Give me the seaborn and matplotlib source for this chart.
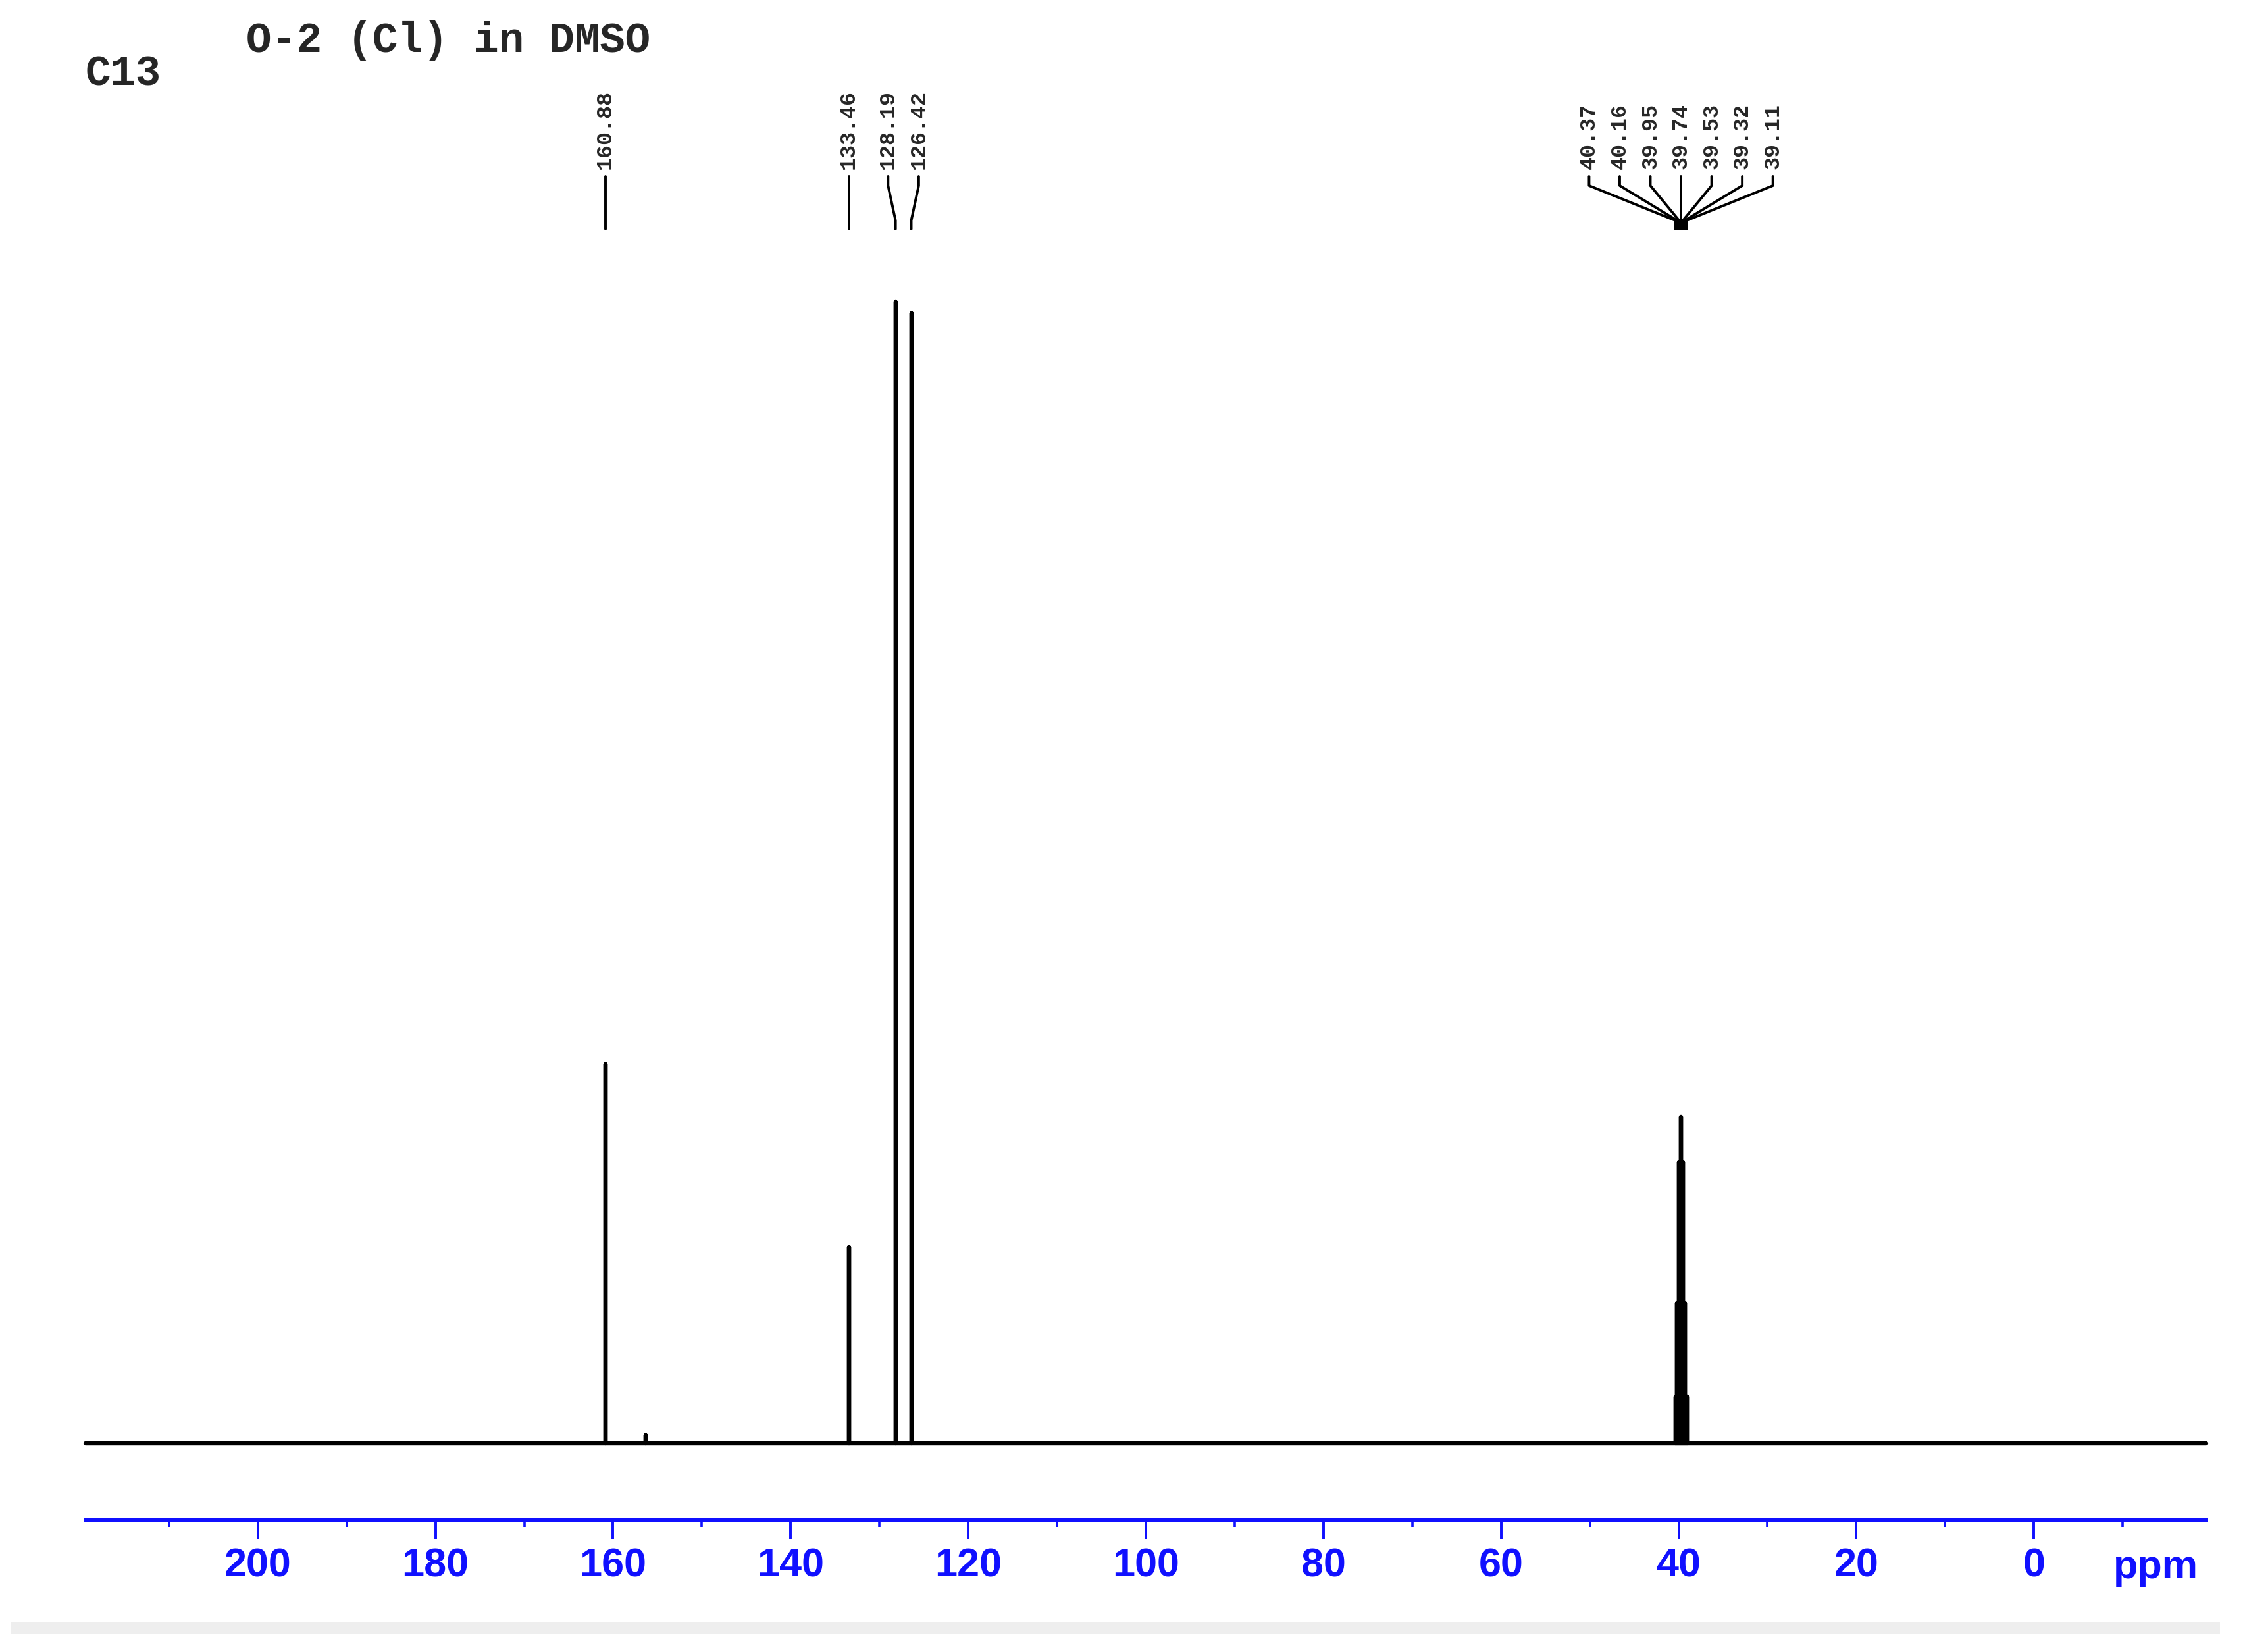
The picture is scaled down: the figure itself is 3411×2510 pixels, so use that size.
import numpy as np
import pandas as pd
import matplotlib
matplotlib.use('Agg')
import matplotlib.pyplot as plt
import seaborn as sns
from matplotlib.transforms import blended_transform_factory
from matplotlib.patches import Rectangle

# Подписанные пики (ppm) и относительная интенсивность (128.19 = 100)
peak_ppm = [160.88, 133.46, 128.19, 126.42,
            40.37, 40.16, 39.95, 39.74, 39.53, 39.32, 39.11]
peak_height = [33.2, 17.2, 100.0, 99.0,
               4.1, 12.3, 24.6, 28.6, 24.6, 12.3, 4.1]
# Слабый пик без подписи
minor_ppm = [156.3]
minor_height = [0.7]

tick_major = [200, 180, 160, 140, 120, 100, 80, 60, 40, 20, 0]
tick_minor = [210, 190, 170, 150, 130, 110, 90, 70, 50, 30, 10, -10]
ppm_range = (219.4, -19.4)

title = 'O-2 (Cl) in DMSO'
nucleus = 'C13'
unit = 'ppm'

blue = '#1010ff'


def spread_labels(ppms, gap):
    # раздвигаем подписи близких пиков, чтобы они не налезали друг на друга
    groups = [[p] for p in sorted(ppms, reverse=True)]

    def positions(g):
        c = np.mean(g)
        return [c + ((len(g) - 1) / 2 - i) * gap for i in range(len(g))]

    merged = True
    while merged:
        merged = False
        for i in range(len(groups) - 1):
            if positions(groups[i])[-1] - positions(groups[i + 1])[0] < gap:
                groups[i] = groups[i] + groups.pop(i + 1)
                merged = True
                break
    out = {}
    for g in groups:
        for p, lx in zip(g, positions(g)):
            out[p] = lx
    return out


if __name__ == '__main__':
    sns.set_style('white')
    plt.rcParams['font.family'] = ['Liberation Sans', 'DejaVu Sans']
    plt.rcParams.update({'xtick.bottom': True, 'xtick.direction': 'out',
                         'xtick.major.size': 10.8, 'xtick.minor.size': 4.0})

    # Строим "палочный" спектр из списка пиков
    all_ppm = peak_ppm + minor_ppm
    all_h = peak_height + minor_height
    order = np.argsort(all_ppm)[::-1]
    xs, ys = [ppm_range[0]], [0.0]
    for i in order:
        xs += [all_ppm[i]] * 3
        ys += [0.0, all_h[i], 0.0]
    xs.append(ppm_range[1])
    ys.append(0.0)
    spec = pd.DataFrame({'ppm': xs, 'intensity': ys})

    W, H = 3412, 2510
    fig = plt.figure(figsize=(W / 200, H / 200), dpi=200)
    left, width = 130 / W, 3222 / W

    # Шкала ppm - отдельные оси на уровне синей линии
    sc = fig.add_axes([left, 1 - 2309 / H, width, 0.002])
    sc.set_xlim(*ppm_range)
    sc.set_yticks([])
    for s in ['left', 'top', 'right']:
        sc.spines[s].set_visible(False)
    sc.spines['bottom'].set_color(blue)
    sc.spines['bottom'].set_linewidth(1.8)
    sc.set_xticks(tick_major)
    sc.set_xticks(tick_minor, minor=True)
    sc.tick_params(axis='x', which='major', length=10.8, width=1.3, color=blue,
                   labelcolor=blue, labelsize=22, pad=4.5)
    sc.tick_params(axis='x', which='minor', length=4.0, width=1.3, color=blue)
    sc.set_xticklabels([str(t) for t in tick_major], fontweight='bold')

    # Спектр
    ax = fig.add_axes([left, 1 - 2193 / H, width, (2193 - 459) / H])
    sns.lineplot(data=spec, x='ppm', y='intensity', sort=False, estimator=None,
                 color='black', lw=2.3, ax=ax)
    for ln in ax.lines:
        ln.set_clip_on(False)
    ax.set_xlim(*ppm_range)
    ax.set_ylim(0, 100)
    ax.axis('off')

    blend = blended_transform_factory(ax.transData, fig.transFigure)

    # длинные (основные) риски шкалы
    ax.vlines(tick_major, 1 - 2339 / H, 1 - 2309 / H, transform=blend,
              color=blue, lw=1.3, clip_on=False)

    fig.text(3275 / W, 1 - 2398 / H, unit, color=blue, fontsize=22,
             fontweight='bold', ha='center', va='baseline')

    # Подписи пиков с выносками
    label_x = spread_labels(peak_ppm, 3.45)
    y_text = 1 - 257 / H
    y1, y2, y3, y4 = [1 - v / H for v in (268, 282, 335, 348)]
    for p in peak_ppm:
        lx = label_x[p]
        ax.text(lx, y_text, f'{p:.2f}', transform=blend, rotation=90,
                ha='center', va='bottom', fontsize=12,
                family=['Liberation Mono', 'DejaVu Sans Mono'], fontweight='bold')
        ax.plot([lx, lx, p, p], [y1, y2, y3, y4], transform=blend,
                color='black', lw=1.4, clip_on=False)

    fig.text(374 / W, 1 - 62 / H, title, fontsize=23, ha='left', va='center',
             family=['Liberation Mono', 'DejaVu Sans Mono'], fontweight='bold')
    fig.text(130 / W, 1 - 112 / H, nucleus, fontsize=23, ha='left', va='center',
             family=['Liberation Mono', 'DejaVu Sans Mono'], fontweight='bold')

    # светло-серая полоса внизу
    fig.add_artist(Rectangle((17 / W, 1 - 2482 / H), 3356 / W, 17 / H,
                             transform=fig.transFigure, color='#eeeeee', lw=0))

    fig.savefig('out.png', dpi=200, facecolor='white')
